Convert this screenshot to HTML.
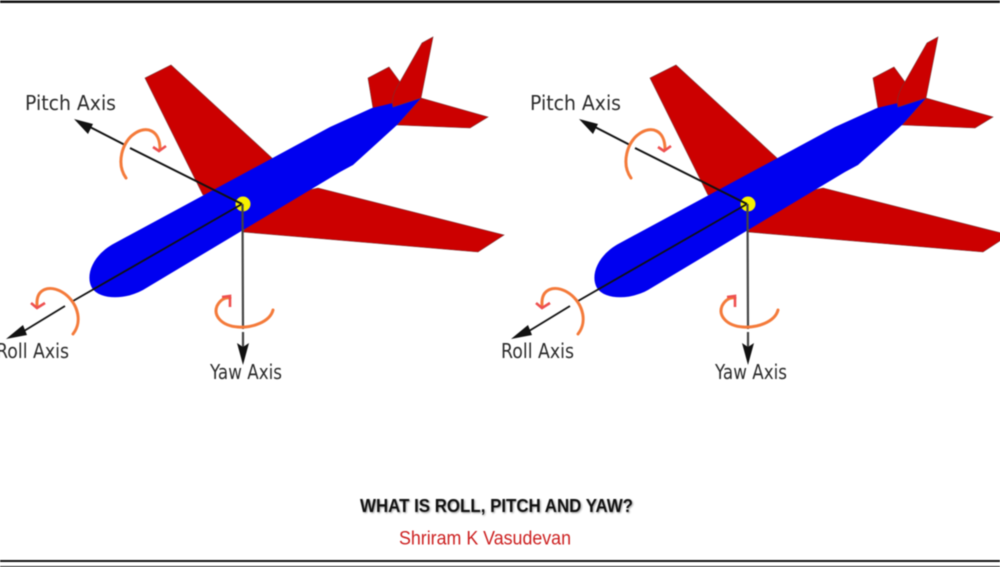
<!DOCTYPE html>
<html>
<head>
<meta charset="utf-8">
<style>
html,body{margin:0;padding:0;background:#fff;width:1000px;height:567px;overflow:hidden}
svg{display:block;position:absolute;left:0;top:0}
.blur{filter:blur(0.6px)}
.lbl{font-family:"DejaVu Sans","Liberation Sans",sans-serif;font-size:20px;fill:#2b2b2b}
</style>
</head>
<body>
<svg width="1000" height="567" viewBox="0 0 1000 567" xmlns="http://www.w3.org/2000/svg">
<g class="blur">
<g>
<polygon points="145,78 171,65 272,158 290,195 203,195" fill="#cc0000" stroke="#7a3030" stroke-width="0.6"/>
<polygon points="318,188 504,235 478,252 243,232 260,200" fill="#cc0000" stroke="#7a3030" stroke-width="0.6"/>
<polygon points="368,78 389,67 400,82 393,106 373,108" fill="#cc0000" stroke="#7a3030" stroke-width="0.6"/>
<polygon points="421,98 488,117 470,128 397,125" fill="#cc0000" stroke="#7a3030" stroke-width="0.6"/>
<path d="M372,108 L393,103 L421,98 L397,125 L353,165 L340,172 L143,290 C125,300 100,300 92,288 C85,276 92,255 115,243 L330,127 Z" fill="#0000f0"/>
<path d="M393,107 C391,100 394,92 397,87 L422,43 L433,37 L421,98 Z" fill="#cc0000" stroke="#7a3030" stroke-width="0.6"/>
<circle cx="243" cy="204" r="7.500" fill="#f5f000"/>
<path d="M242,204 L130,148 M125,145 L88,126" stroke="#111" stroke-width="2" fill="none"/>
<polygon points="74,119 93,124 88,134" fill="#111"/>
<path d="M242,204 L73,301 M65,306 L24,331" stroke="#111" stroke-width="1.800" fill="none"/>
<polygon points="6,339 23,325 27,335" fill="#111"/>
<path d="M242.500,204 L243,329 M243,332 L243,350" stroke="#444" stroke-width="2.200" fill="none"/>
<polygon points="243,365 237,343 243,347 249,343" fill="#111"/>
<path d="M126,178 C116,164 122,142 134,134 C146,125 160,130 160,149" stroke="#f47a3a" stroke-width="3" fill="none" stroke-linecap="round"/>
<path d="M153,147 L159,151 L166,146" stroke="#ee5050" stroke-width="2.600" fill="none"/>
<path d="M73,334 C84,320 76,300 62,292 C50,285 36,288 37,305" stroke="#f47a3a" stroke-width="3" fill="none" stroke-linecap="round"/>
<path d="M31,303 L37,308 L45,303" stroke="#ee5050" stroke-width="2.600" fill="none"/>
<path d="M273,310 C270,322 252,328 238,327 C222,326 213,316 217,306 C220,300 225,297 230,298" stroke="#f47a3a" stroke-width="3" fill="none" stroke-linecap="round"/>
<path d="M222,297 L230,296 L230,307" stroke="#ee5050" stroke-width="2.600" fill="none"/>
<text class="lbl" x="25" y="110" textLength="91" lengthAdjust="spacingAndGlyphs">Pitch Axis</text>
<text class="lbl" x="-4" y="358" textLength="73" lengthAdjust="spacingAndGlyphs">Roll Axis</text>
<text class="lbl" x="210" y="379" textLength="72" lengthAdjust="spacingAndGlyphs">Yaw Axis</text>
</g>
<g transform="translate(505,0)">
<polygon points="145,78 171,65 272,158 290,195 203,195" fill="#cc0000" stroke="#7a3030" stroke-width="0.6"/>
<polygon points="318,188 504,235 478,252 243,232 260,200" fill="#cc0000" stroke="#7a3030" stroke-width="0.6"/>
<polygon points="368,78 389,67 400,82 393,106 373,108" fill="#cc0000" stroke="#7a3030" stroke-width="0.6"/>
<polygon points="421,98 488,117 470,128 397,125" fill="#cc0000" stroke="#7a3030" stroke-width="0.6"/>
<path d="M372,108 L393,103 L421,98 L397,125 L353,165 L340,172 L143,290 C125,300 100,300 92,288 C85,276 92,255 115,243 L330,127 Z" fill="#0000f0"/>
<path d="M393,107 C391,100 394,92 397,87 L422,43 L433,37 L421,98 Z" fill="#cc0000" stroke="#7a3030" stroke-width="0.6"/>
<circle cx="243" cy="204" r="7.500" fill="#f5f000"/>
<path d="M242,204 L130,148 M125,145 L88,126" stroke="#111" stroke-width="2" fill="none"/>
<polygon points="74,119 93,124 88,134" fill="#111"/>
<path d="M242,204 L73,301 M65,306 L24,331" stroke="#111" stroke-width="1.800" fill="none"/>
<polygon points="6,339 23,325 27,335" fill="#111"/>
<path d="M242.500,204 L243,329 M243,332 L243,350" stroke="#444" stroke-width="2.200" fill="none"/>
<polygon points="243,365 237,343 243,347 249,343" fill="#111"/>
<path d="M126,178 C116,164 122,142 134,134 C146,125 160,130 160,149" stroke="#f47a3a" stroke-width="3" fill="none" stroke-linecap="round"/>
<path d="M153,147 L159,151 L166,146" stroke="#ee5050" stroke-width="2.600" fill="none"/>
<path d="M73,334 C84,320 76,300 62,292 C50,285 36,288 37,305" stroke="#f47a3a" stroke-width="3" fill="none" stroke-linecap="round"/>
<path d="M31,303 L37,308 L45,303" stroke="#ee5050" stroke-width="2.600" fill="none"/>
<path d="M273,310 C270,322 252,328 238,327 C222,326 213,316 217,306 C220,300 225,297 230,298" stroke="#f47a3a" stroke-width="3" fill="none" stroke-linecap="round"/>
<path d="M222,297 L230,296 L230,307" stroke="#ee5050" stroke-width="2.600" fill="none"/>
<text class="lbl" x="25" y="110" textLength="91" lengthAdjust="spacingAndGlyphs">Pitch Axis</text>
<text class="lbl" x="-4" y="358" textLength="73" lengthAdjust="spacingAndGlyphs">Roll Axis</text>
<text class="lbl" x="210" y="379" textLength="72" lengthAdjust="spacingAndGlyphs">Yaw Axis</text>
</g>
<rect x="0" y="0.500" width="1000" height="2.500" fill="#111"/>
<rect x="0" y="560" width="1000" height="2" fill="#111"/>
<rect x="0" y="566" width="1000" height="1" fill="#222"/>
<text x="360" y="512" font-family="'Liberation Sans',sans-serif" font-weight="bold" font-size="18" fill="#111" textLength="273" lengthAdjust="spacingAndGlyphs" style="text-shadow:1px 1px 2px rgba(0,0,0,.4)">WHAT IS ROLL, PITCH AND YAW?</text>
<text x="399" y="544.500" font-family="'Liberation Sans',sans-serif" font-size="19" fill="#cc2020" textLength="172" lengthAdjust="spacingAndGlyphs">Shriram K Vasudevan</text>
</g>
</svg>
</body>
</html>
